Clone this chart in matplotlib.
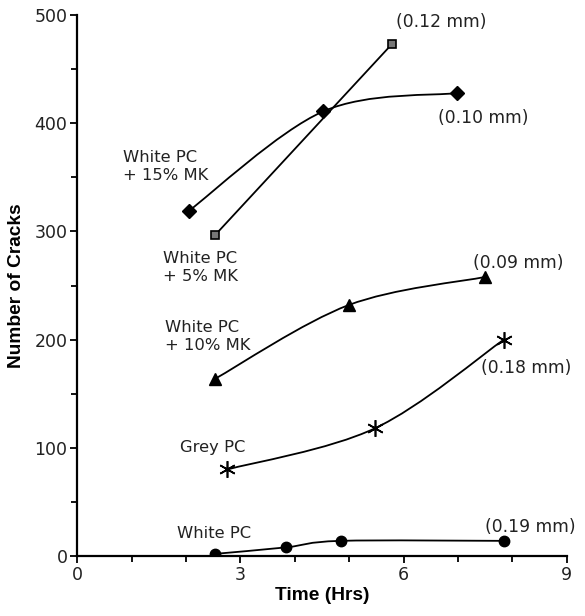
import numpy as np
import matplotlib
matplotlib.use('Agg')
import matplotlib.pyplot as plt
from matplotlib.path import Path
from matplotlib.patches import PathPatch
from matplotlib.ticker import MultipleLocator

# data
t_mk5 = [2.54, 5.78]
n_mk5 = [297, 473]
t_mk15 = [2.05, 4.52, 6.98]
n_mk15 = [319, 411, 428]
t_mk10 = [2.54, 4.99, 7.5]
n_mk10 = [164, 232, 258]
t_grey = [2.76, 5.47, 7.84]
n_grey = [80, 118, 200]
t_white = [2.54, 3.84, 4.84, 7.84]
n_white = [2, 8, 14, 14]

series_labels = ['White PC\n+ 5% MK', 'White PC\n+ 15% MK', 'White PC\n+ 10% MK', 'Grey PC', 'White PC']
crack_widths = ['(0.12 mm)', '(0.10 mm)', '(0.09 mm)', '(0.18 mm)', '(0.19 mm)']

plt.rcParams['font.family'] = ['DejaVu Sans']

def smooth(ax, x, y):
    # smoothed line like a spreadsheet chart, bezier through the points
    p = np.column_stack([x, y]).astype(float)
    n = len(p)
    if n < 3:
        ax.plot(p[:, 0], p[:, 1], color='black', lw=1.3, zorder=2)
        return
    verts = [p[0]]
    codes = [Path.MOVETO]
    for i in range(n-1):
        p0 = p[i-1] if i > 0 else p[i]
        p1 = p[i]
        p2 = p[i+1]
        p3 = p[i+2] if i+2 < n else p[i+1]
        c1 = p1+(p2-p0)/6
        c2 = p2-(p3-p1)/6
        verts += [c1, c2, p2]
        codes += [Path.CURVE4]*3
    ax.add_patch(PathPatch(Path(verts, codes), fc='none', ec='black', lw=1.3, zorder=2))

fig = plt.figure(figsize=(5.85, 6.16), dpi=100)
ax = fig.add_axes([0.132, 0.0974, 0.837, 0.878])

smooth(ax, t_mk5, n_mk5)
smooth(ax, t_mk15, n_mk15)
smooth(ax, t_mk10, n_mk10)
smooth(ax, t_grey, n_grey)
smooth(ax, t_white, n_white)

ax.plot(t_mk5, n_mk5, ls='none', marker='s', ms=6, mfc='#777777', mec='black', mew=1.2, zorder=3)
ax.plot(t_mk15, n_mk15, ls='none', marker='D', ms=7.5, color='black', zorder=3)
ax.plot(t_mk10, n_mk10, ls='none', marker='^', ms=8, color='black', zorder=3)
ax.plot(t_grey, n_grey, ls='none', marker=(6, 2, 0), ms=12, color='black', mew=1.2, zorder=3)
ax.plot(t_white, n_white, ls='none', marker='o', ms=7.5, color='black', zorder=3)

fs = 11.8
tc = '#222222'
ax.text(1.57, 267, series_labels[0], fontsize=fs, color=tc, va='center', ha='left', linespacing=1.25)
ax.text(0.84, 360, series_labels[1], fontsize=fs, color=tc, va='center', ha='left', linespacing=1.25)
ax.text(1.62, 203, series_labels[2], fontsize=fs, color=tc, va='center', ha='left', linespacing=1.25)
ax.text(1.88, 100, series_labels[3], fontsize=fs, color=tc, va='center', ha='left')
ax.text(1.84, 21, series_labels[4], fontsize=fs, color=tc, va='center', ha='left')

fs2 = 12.3
ax.text(6.69, 494, crack_widths[0], fontsize=fs2, color=tc, va='center', ha='center')
ax.text(7.46, 405, crack_widths[1], fontsize=fs2, color=tc, va='center', ha='center')
ax.text(8.1, 271, crack_widths[2], fontsize=fs2, color=tc, va='center', ha='center')
ax.text(8.25, 174, crack_widths[3], fontsize=fs2, color=tc, va='center', ha='center')
ax.text(8.32, 27, crack_widths[4], fontsize=fs2, color=tc, va='center', ha='center')

ax.set_xlim(0, 9)
ax.set_ylim(0, 500)
ax.xaxis.set_major_locator(MultipleLocator(3))
ax.xaxis.set_minor_locator(MultipleLocator(1))
ax.yaxis.set_major_locator(MultipleLocator(100))
ax.yaxis.set_minor_locator(MultipleLocator(50))
for s in ['top', 'right']:
    ax.spines[s].set_visible(False)
for s in ['left', 'bottom']:
    ax.spines[s].set_linewidth(1.6)
ax.tick_params(which='major', length=5, width=1.3, labelsize=12.5, labelcolor=tc, pad=2)
ax.tick_params(which='minor', length=4, width=1.3)
ax.set_xlabel('Time (Hrs)', fontsize=13.8, fontweight='bold', family='Liberation Sans', labelpad=2)
ax.set_ylabel('Number of Cracks', fontsize=13.8, fontweight='bold', family='Liberation Sans', labelpad=7)

fig.savefig('out.png', dpi=100)
